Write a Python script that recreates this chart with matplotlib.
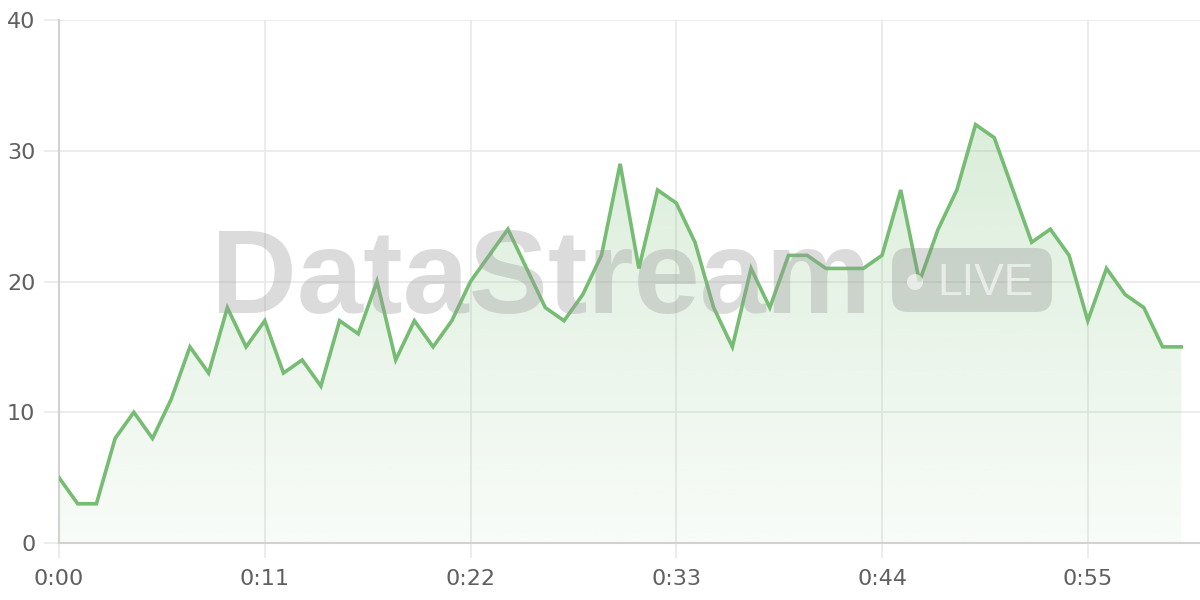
import matplotlib
matplotlib.use("Agg")
import matplotlib.pyplot as plt
import matplotlib.patches as mpatches
from matplotlib.transforms import IdentityTransform
import numpy as np

plt.rcParams['font.family'] = ['DejaVu Sans']

# データ (1分間, 1秒ごと)
seconds = list(range(61))
values = [5, 3, 3, 8, 10, 8, 11, 15, 13, 18, 15, 17, 13, 14, 12, 17, 16, 20, 14, 17,
          15, 17, 20, 22, 24, 21, 18, 17, 19, 22, 29, 21, 27, 26, 23, 18, 15, 21, 18, 22,
          22, 21, 21, 21, 22, 27, 20, 24, 27, 32, 31, 27, 23, 24, 22, 17, 21, 19, 18, 15, 15]
xtick_pos = [0, 11, 22, 33, 44, 55]
xtick_labels = ["0:00", "0:11", "0:22", "0:33", "0:44", "0:55"]
ytick_pos = [0, 10, 20, 30, 40]

line_color = "#76bd73"
grid_color = "#e9e9e9"
axis_color = "#d2d2d2"
label_color = "#5f5f5f"

fig = plt.figure(figsize=(12, 6), dpi=100)
ax = fig.add_axes([59/1200, 57/600, 1141/1200, 523/600])
ax.set_xlim(0, 61)
ax.set_ylim(0, 40)

x = np.array(seconds)
y = np.array(values)

# グラデーション塗りつぶし
poly = ax.fill_between(x, 0, y, color="none", lw=0)
grad = np.zeros((256, 1, 4))
grad[:, 0, 0] = 118/255
grad[:, 0, 1] = 188/255
grad[:, 0, 2] = 116/255
grad[:, 0, 3] = np.linspace(0.05, 0.27, 256)
im = ax.imshow(grad, aspect="auto", extent=[0, 60, 0, 33], origin="lower", zorder=1)
path = poly.get_paths()[0]
im.set_clip_path(path, transform=ax.transData)

# ウォーターマーク (ピクセル座標, 原点は左下)
px = IdentityTransform()
fig.text(211, 600 - 313, "DataStream", transform=px, fontsize=85.5, fontweight="bold",
         family="Liberation Sans", color="#9a9a9a", alpha=0.35,
         ha="left", va="baseline", zorder=2)
badge = mpatches.FancyBboxPatch((892, 600 - 312), 160, 64,
                                boxstyle="round,pad=0,rounding_size=16",
                                transform=px, facecolor="#8a8a8a",
                                edgecolor="none", alpha=0.3, zorder=2)
fig.patches.append(badge)
dot = mpatches.Circle((915, 600 - 282), 8, transform=px,
                      facecolor="white", edgecolor="none", alpha=0.6, zorder=3)
fig.patches.append(dot)
fig.text(937, 600 - 295, "LIVE", transform=px, fontsize=32, family="Liberation Sans",
         color="white", alpha=0.6, ha="left", va="baseline", zorder=3)

ax.plot(x, y, color=line_color, lw=2.6, zorder=4, solid_joinstyle="miter")

# 軸とグリッド
ax.set_xticks(xtick_pos)
ax.set_xticklabels(xtick_labels)
ax.set_yticks(ytick_pos)
ax.grid(True, color=grid_color, lw=1.2, zorder=0)
ax.set_axisbelow(True)
for s in ["top", "right"]:
    ax.spines[s].set_visible(False)
for s in ["left", "bottom"]:
    ax.spines[s].set_color(axis_color)
    ax.spines[s].set_linewidth(1.5)
ax.tick_params(axis="both", colors=grid_color, length=11, width=1.2,
               labelcolor=label_color, labelsize=16)
ax.tick_params(axis="x", pad=8)
ax.tick_params(axis="y", pad=6)

plt.savefig("out.png", dpi=100)
plt.close()
